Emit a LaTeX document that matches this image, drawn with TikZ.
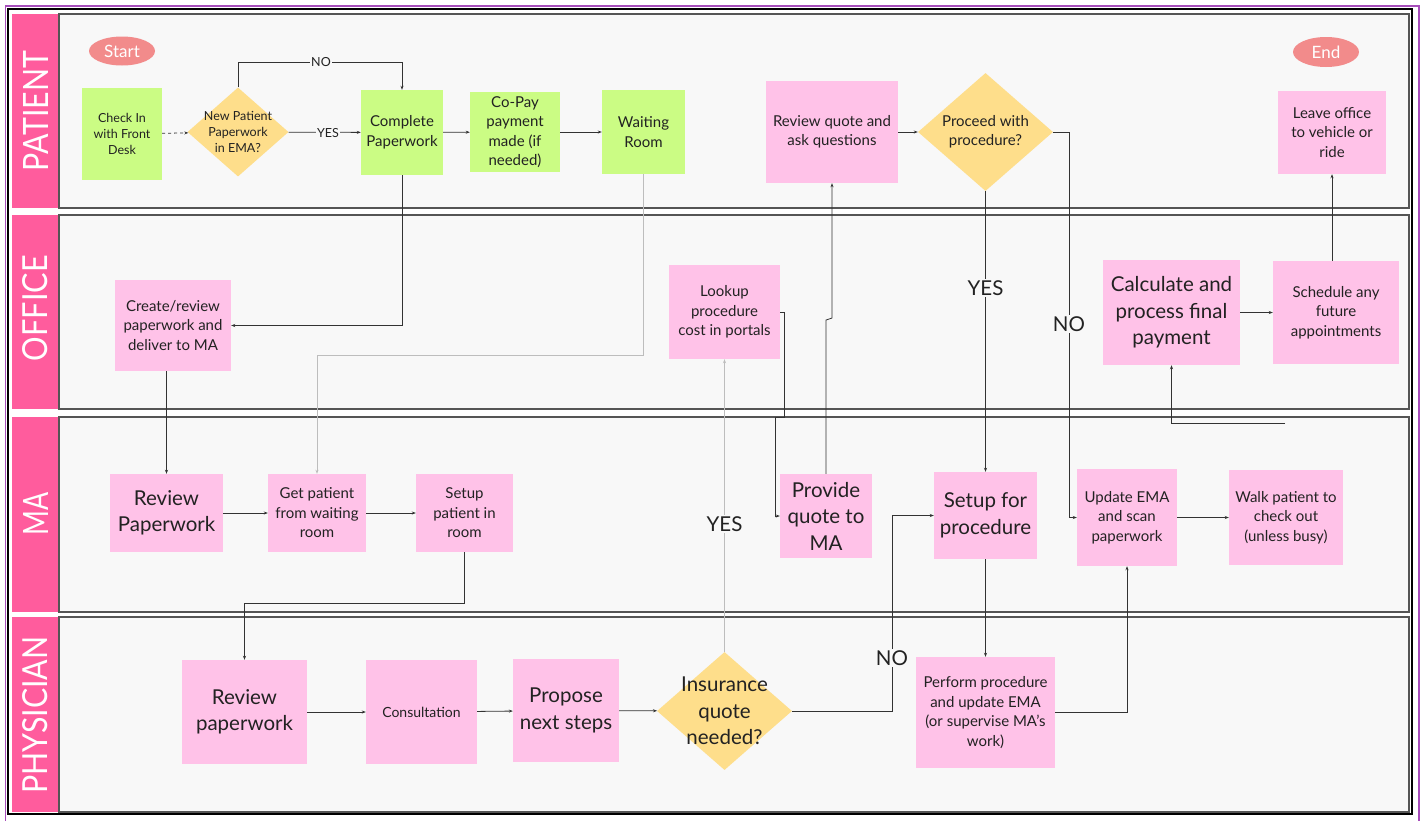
\documentclass[tikz,border=0pt]{standalone}
\usepackage{fontspec}
\setmainfont{Lato}
\usetikzlibrary{shapes.geometric,arrows.meta}
\definecolor{lanebg}{HTML}{F8F8F8}
\definecolor{header}{HTML}{FF5C9D}
\definecolor{pinkbox}{HTML}{FFC2E8}
\definecolor{greenbox}{HTML}{CBFC84}
\definecolor{gold}{HTML}{FEDE8B}
\definecolor{salmon}{HTML}{F28B8B}
\definecolor{framepurple}{HTML}{A64DBA}
\definecolor{linec}{HTML}{333333}
\definecolor{lightline}{HTML}{BDBDBD}
\definecolor{lanebord}{HTML}{555555}
\definecolor{txt}{HTML}{222222}
\begin{document}
\begin{tikzpicture}[x=1pt,y=-1pt,
  box/.style={rectangle, inner sep=2pt, align=center, text=txt},
  pbox/.style={box, fill=pinkbox},
  gbox/.style={box, fill=greenbox},
  sm/.style={font=\fontsize{12.5}{16}\selectfont},
  md/.style={font=\fontsize{15}{19.5}\selectfont},
  lg/.style={font=\fontsize{20.5}{26.5}\selectfont},
  diam/.style={diamond, fill=gold, inner sep=0pt},
  dtext/.style={align=center, text=txt, inner sep=0pt},
  term/.style={ellipse, fill=salmon, text=white, inner sep=0pt, font=\fontsize{17}{20}\selectfont},
  conn/.style={draw=linec, line width=0.8pt, -{Stealth[length=4pt,width=3pt]}},
  gconn/.style={conn, draw=lightline},
  lab/.style={fill=lanebg, inner sep=1.5pt, text=txt},
  lanetitle/.style={rotate=90, text=white, inner sep=0pt}
]
\useasboundingbox (0,0) rectangle (1424,820);
\fill[white] (0,0) rectangle (1424,820);
% frames
\draw[framepurple, line width=1.6pt] (5.5,6) rectangle (1419,823);
\draw[black, line width=1.8pt] (8,9) rectangle (1412,814);
% lanes
\foreach \t/\b in {14/208, 215/409, 417/612, 617/812}{
  \fill[header] (12,\t) rectangle (59,\b);
  \draw[lanebord, line width=1.1pt, fill=lanebg] (59,\t) rectangle (1409,\b);
}
\node[lanetitle] (tPatient) at (35.5,111) {\resizebox{120pt}{25pt}{PATIENT}};
\node[lanetitle] (tOffice) at (35.5,308) {\resizebox{106pt}{25pt}{OFFICE}};
\node[lanetitle] (tMA) at (35.5,514) {\resizebox{43pt}{25pt}{MA}};
\node[lanetitle] (tPhys) at (35.5,715) {\resizebox{157pt}{25pt}{PHYSICIAN}};

% PATIENT lane
\node[term, minimum width=66pt, minimum height=29pt] (start) at (122,51) {Start};
\node[term, minimum width=66pt, minimum height=30pt] (endn) at (1326,52) {End};
\node[gbox, sm, minimum width=80pt, minimum height=92pt] (checkin) at (122,134) {Check In\\with Front\\Desk};
\node[diam, minimum width=101pt, minimum height=89pt] (newpat) at (238,132) {};
\node[dtext, sm] (newpatT) at (238,132) {New Patient\\Paperwork\\in EMA?};
\node[gbox, md, minimum width=82pt, minimum height=85pt] (complete) at (402,132.5) {Complete\\Paperwork};
\node[gbox, md, minimum width=90pt, minimum height=80pt] (copay) at (515,132) {Co-Pay\\payment\\made (if\\needed)};
\node[gbox, md, minimum width=83pt, minimum height=84pt] (waiting) at (643.5,132) {Waiting\\Room};
\node[pbox, md, minimum width=132pt, minimum height=102pt] (reviewq) at (832,132) {Review quote and\\ask questions};
\node[diam, minimum width=135pt, minimum height=118pt] (proceed) at (985.5,132) {};
\node[dtext, md] (proceedT) at (985.5,132) {Proceed with\\procedure?};
\node[pbox, md, minimum width=108pt, minimum height=83pt] (leave) at (1332,132.5) {Leave office\\to vehicle or\\ride};

% OFFICE lane
\node[pbox, md, minimum width=116pt, minimum height=91pt] (create) at (173,325.5) {Create/review\\paperwork and\\deliver to MA};
\node[pbox, md, minimum width=111pt, minimum height=94pt] (lookup) at (724.5,312) {Lookup\\procedure\\cost in portals};
\node[pbox, lg, minimum width=137pt, minimum height=105pt] (calc) at (1171.5,312.5) {Calculate and\\process final\\payment};
\node[pbox, md, minimum width=126pt, minimum height=103pt] (sched) at (1336,312.5) {Schedule any\\future\\appointments};

% MA lane
\node[pbox, lg, minimum width=113pt, minimum height=78pt] (reviewP) at (166.5,513) {Review\\Paperwork};
\node[pbox, md, minimum width=98pt, minimum height=78pt] (getpat) at (317,513) {Get patient\\from waiting\\room};
\node[pbox, md, minimum width=97pt, minimum height=78pt] (setuppat) at (464.5,513) {Setup\\patient in\\room};
\node[pbox, lg, minimum width=92pt, minimum height=84pt] (provide) at (826,516) {Provide\\quote to\\MA};
\node[pbox, lg, minimum width=103pt, minimum height=87pt] (setupproc) at (985.5,515.5) {Setup for\\procedure};
\node[pbox, md, minimum width=100pt, minimum height=97pt] (update) at (1127,517.5) {Update EMA\\and scan\\paperwork};
\node[pbox, md, minimum width=114pt, minimum height=95pt] (walk) at (1286,517.5) {Walk patient to\\check out\\(unless busy)};

% PHYSICIAN lane
\node[pbox, lg, minimum width=125pt, minimum height=104pt] (reviewp2) at (244.5,712) {Review\\paperwork};
\node[pbox, font=\fontsize{14}{18}\selectfont, minimum width=111pt, minimum height=104pt] (consult) at (421.5,712) {Consultation};
\node[pbox, lg, minimum width=106pt, minimum height=103pt] (propose) at (566,710.5) {Propose\\next steps};
\node[diam, minimum width=135pt, minimum height=118pt] (insur) at (724.5,711) {};
\node[dtext, lg] (insurT) at (724.5,711) {Insurance\\quote\\needed?};
\node[pbox, md, minimum width=139pt, minimum height=111pt] (perform) at (985.5,712.5) {Perform procedure\\and update EMA\\(or supervise MA’s\\work)};

% connectors
\draw[conn, dashed] (checkin) -- (newpat);
\draw[conn] (newpat) -- (complete);
\draw[conn] (newpat.north) -- (238,62) -| (complete.north);
\draw[conn] (complete) -- (copay);
\draw[conn] (copay) -- (waiting);
\draw[conn] (complete.south) |- (create.east);
\draw[gconn] (waiting.south) -- (643.5,355) -| (getpat.north);
\draw[conn] (create.south -| reviewP.north) -- (reviewP.north);
\draw[conn] (reviewP) -- (getpat);
\draw[conn] (getpat) -- (setuppat);
\draw[conn] (setuppat.south) -- (464.5,603) -| (reviewp2.north);
\draw[conn] (reviewp2) -- (consult);
\draw[conn] (consult) -- (propose);
\draw[conn] (propose) -- (insur);
\draw[gconn] (insur.north) -- (lookup.south);
\draw[conn] (lookup.east) -- (784,312) -- (784,417) -- (775,417) |- (provide.west);
\draw[conn] (provide.north) -- (826,320) -- (832,318) -- (reviewq.south);
\draw[conn] (reviewq) -- (proceed);
\draw[conn] (proceed.south) -- (setupproc.north);
\draw[conn] (proceed.east) -- (1069,132) |- (update.west);
\draw[conn] (insur.east) -- (892,711) |- (setupproc.west);
\draw[conn] (setupproc.south) -- (perform.north);
\draw[conn] (perform.east) -| (update.south);
\draw[conn] (update) -- (walk);
\coordinate (dangle) at (1285,423);
\draw[conn] (dangle) -| (calc.south);
\draw[conn] (calc) -- (sched);
\draw[conn] (leave.south |- sched.north) -- (leave.south);

% connector labels
\node[lab, sm] (lNo1) at (321,62) {NO};
\node[lab, sm] (lYes1) at (328,133) {YES};
\node[lab, lg] (lYes2) at (985.5,288) {YES};
\node[lab, lg] (lNo2) at (1069,324) {NO};
\node[lab, lg] (lYes3) at (724.5,524) {YES};
\node[lab, lg] (lNo3) at (892,658) {NO};
\end{tikzpicture}
\end{document}
